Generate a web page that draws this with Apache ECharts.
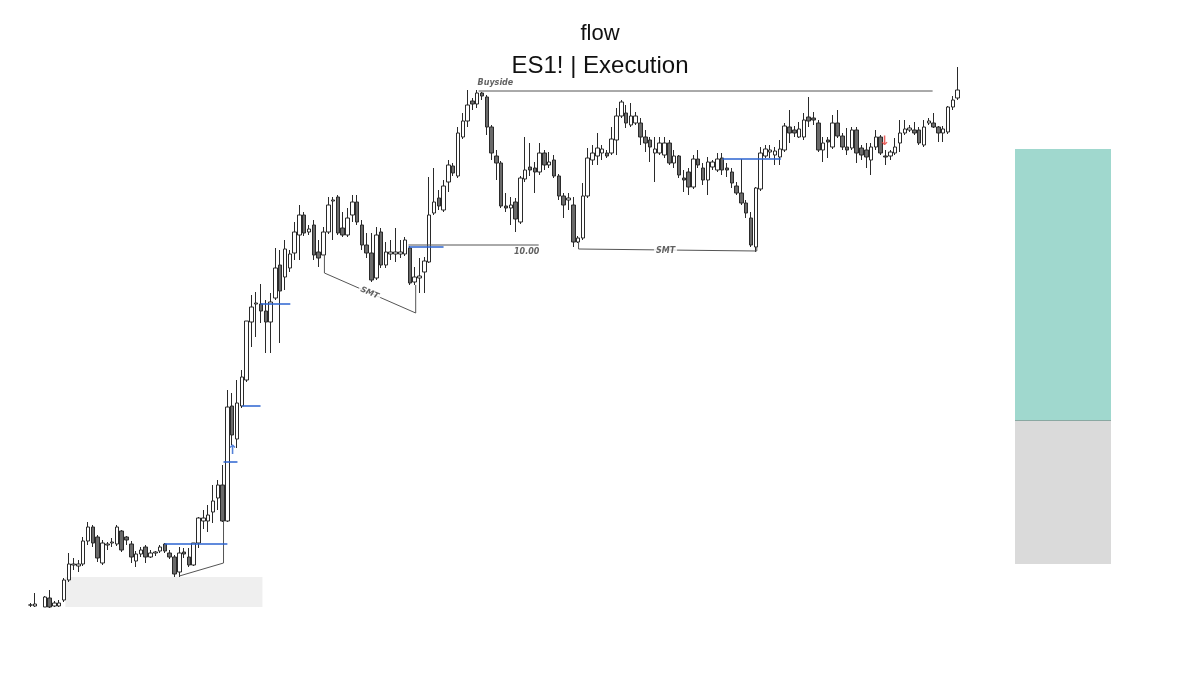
<!DOCTYPE html>
<html>
<head>
<meta charset="utf-8">
<title>flow - ES1! | Execution</title>
<script src="https://cdn.jsdelivr.net/npm/echarts@6/dist/echarts.min.js"></script>
<style>
  html, body { margin: 0; padding: 0; background: #fff; }
  #chart { width: 1200px; height: 675px; }
</style>
</head>
<body>
<div id="chart"></div>
<script>
  // candles, one entry per bar (null = no bar)
  const openPrices = [
    95, 94, null, 93, 102, 94, 94, 100, 120, 135,
    134, 136, 159, 173, 163, 137, 155, 157, 156, 169,
    163, 156, 139, 146, 153, 143, 147, 149, 156, 147,
    143, 128, 148, 143, 135, 157, 179, 179, 188, 202,
    215, 179, 294, 261, 294, 320, 378, 396, 396, 389,
    378, 402, 435, 423, 432, 447, 465, 485, 468, 475,
    448, 445, 468, 499, 503, 472, 465, 485, 498, 475,
    455, 447, 422, 468, 435, 446, 446, 446, 446, 452,
    418, 422, 428, 438, 487, 502, 490, 518, 534, 524,
    563, 579, 599, 596, 607, 603, 573, 544, 537, 494,
    492, 498, 478, 521, 533, 532, 528, 547, 535, 540,
    524, 504, 500, 495, 458, 462, 504, 540, 544, 547,
    547, 547, 560, 584, 587, 575, 577, 577, 563, 560,
    547, 547, 545, 557, 537, 544, 522, 528, 513, 541,
    532, 520, 533, 530, 542, 532, 528, 514, 507, 497,
    482, 453, 511, 544, 548, 545, 543, 550, 573, 570,
    563, 563, 583, 582, 577, 550, 560, 553, 577, 564,
    553, 552, 570, 552, 550, 540, 553, 563, 544, 544,
    547, 557, 567, 570, 570, 570, 555, 577, 577, 573,
    567, 568, 593, 602
  ];
  const closePrices = [
    95, 96, null, 103, 93, 97, 97, 120, 136, 136,
    136, 159, 173, 157, 142, 157, 156, 158, 173, 150,
    160, 143, 146, 150, 143, 147, 148, 153, 149, 143,
    126, 147, 146, 135, 157, 182, 182, 185, 199, 215,
    179, 293, 265, 297, 323, 379, 393, 397, 389, 378,
    398, 432, 409, 451, 446, 468, 485, 467, 471, 445,
    442, 468, 495, 500, 467, 465, 482, 498, 478, 455,
    447, 420, 465, 435, 448, 448, 448, 448, 460, 417,
    423, 424, 439, 485, 498, 494, 514, 535, 527, 567,
    579, 595, 596, 607, 604, 573, 547, 537, 494, 492,
    495, 481, 522, 530, 530, 528, 547, 535, 538, 524,
    504, 495, 502, 458, 462, 504, 542, 547, 552, 551,
    544, 561, 584, 598, 577, 584, 584, 563, 557, 553,
    551, 557, 557, 537, 544, 525, 520, 513, 541, 535,
    520, 538, 538, 541, 530, 530, 517, 507, 497, 487,
    455, 512, 547, 551, 550, 549, 551, 574, 567, 567,
    571, 580, 579, 580, 550, 557, 558, 577, 564, 553,
    550, 570, 547, 545, 543, 553, 563, 547, 543, 548,
    553, 567, 571, 572, 567, 557, 573, 579, 573, 567,
    571, 593, 600, 610
  ];
  const lowPrices = [
    93, 93, null, 93, 92, 93, 93, 98, 118, 130,
    128, 134, 155, 153, 138, 135, 150, 153, 154, 148,
    155, 137, 133, 143, 137, 142, 144, 147, 147, 141,
    123, 123, 142, 133, 134, 152, 171, 168, 177, 190,
    178, 178, 255, 252, 292, 318, 353, 363, 377, 347,
    347, 400, 357, 410, 428, 440, 440, 464, 465, 440,
    433, 445, 466, 460, 465, 463, 463, 478, 475, 450,
    442, 418, 420, 432, 432, 440, 438, 442, 444, 415,
    415, 407, 407, 437, 485, 490, 488, 508, 524, 522,
    561, 573, 590, 592, 600, 565, 540, 520, 492, 488,
    475, 468, 476, 518, 524, 507, 525, 530, 532, 522,
    500, 482, 490, 453, 457, 460, 502, 535, 535, 540,
    542, 545, 545, 582, 572, 573, 575, 555, 548, 538,
    518, 545, 542, 535, 532, 522, 508, 505, 511, 532,
    515, 505, 530, 528, 525, 523, 512, 505, 495, 482,
    453, 448, 509, 542, 542, 535, 535, 548, 557, 563,
    562, 560, 573, 575, 548, 538, 542, 551, 562, 550,
    545, 550, 537, 540, 532, 525, 550, 545, 535, 540,
    545, 548, 565, 568, 565, 555, 553, 575, 572, 558,
    558, 566, 590, 600
  ];
  const highPrices = [
    97, 107, null, 104, 110, 99, 100, 122, 147, 142,
    140, 163, 178, 175, 165, 160, 158, 162, 175, 170,
    164, 159, 149, 153, 155, 150, 149, 155, 157, 150,
    145, 153, 152, 152, 157, 183, 190, 195, 215, 220,
    235, 310, 307, 320, 330, 379, 405, 408, 416, 400,
    407, 452, 450, 460, 450, 478, 495, 488, 475, 480,
    460, 473, 503, 503, 505, 488, 492, 505, 505, 480,
    467, 467, 473, 472, 458, 460, 472, 460, 463, 454,
    433, 442, 443, 523, 532, 510, 520, 540, 537, 573,
    587, 610, 602, 610, 608, 605, 575, 550, 539, 507,
    503, 502, 524, 563, 557, 538, 557, 550, 548, 545,
    526, 507, 507, 503, 464, 517, 552, 555, 567, 555,
    550, 573, 592, 600, 595, 597, 588, 582, 570, 563,
    563, 563, 563, 560, 550, 545, 530, 532, 545, 550,
    537, 543, 540, 547, 547, 537, 532, 518, 541, 500,
    488, 513, 553, 555, 555, 553, 560, 577, 590, 574,
    578, 587, 603, 588, 580, 563, 563, 585, 590, 567,
    572, 573, 573, 555, 557, 557, 570, 565, 550, 550,
    562, 580, 580, 575, 578, 573, 580, 582, 587, 574,
    574, 594, 604, 633
  ];

  // drawings on the chart, in [bar index, price]
  const buysideLine = [[93.3, 609], [187.8, 609]];
  const rangeLine = [[78.7, 455], [105.8, 455]];
  const smtLeft = [[61.2, 445], [61.2, 427], [80.2, 387], [80.2, 415]];
  const smtRight = [[114.1, 458], [114.1, 451], [151.2, 449], [151.2, 453]];
  const smtLow = [[31.0, 124], [40.2, 137], [40.2, 179]];
  const blueLevels = [
    [[27.9, 156], [41.0, 156]],
    [[40.2, 238], [43.1, 238]],
    [[44.1, 294], [47.9, 294]],
    [[47.9, 396], [54.1, 396]],
    [[78.7, 453], [86.0, 453]],
    [[144.1, 541], [156.2, 541]]
  ];
  const noteTexts = ['Buyside', '10.00', 'SMT', 'SMT'];
  const notePoints = [[96.8, 617], [103.3, 448], [70.6, 407], [132.2, 449]];
  const noteAngles = [0, 0, -24, 0];
  const upArrow = [42.1, 249];
  const downArrow = [177.8, 558];
  const demandZone = [[7.3, 123], [48.3, 93]];

  // position tool on the right
  const stopLevel = 136;
  const entryLevel = 280;
  const targetLevel = 551;

  const barCount = openPrices.length;
  const categories = openPrices.map((_, i) => String(i + 1));
  const candleData = openPrices.map((o, i) =>
    o == null ? ['-', '-', '-', '-'] : [o, closePrices[i], lowPrices[i], highPrices[i]]
  );

  const fontFamily = 'Liberation Sans, Arial, sans-serif';
  const inkColor = '#3a3a3a';
  const blueColor = '#2b63d0';

  const drawLine = (points, color, width) => ({
    type: 'line',
    xAxisIndex: 1,
    yAxisIndex: 0,
    data: points,
    symbol: 'none',
    silent: true,
    z: 4,
    lineStyle: { color: color, width: width }
  });

  const series = [
    {
      type: 'line',
      xAxisIndex: 1,
      yAxisIndex: 0,
      data: demandZone,
      symbol: 'none',
      silent: true,
      z: 1,
      lineStyle: { opacity: 0 },
      markArea: {
        silent: true,
        itemStyle: { color: '#efefef' },
        data: [[{ coord: demandZone[0] }, { coord: demandZone[1] }]]
      }
    },
    {
      type: 'candlestick',
      xAxisIndex: 0,
      yAxisIndex: 0,
      data: candleData,
      barWidth: 4,
      z: 3,
      itemStyle: {
        color: '#ffffff',
        color0: '#6a6a6a',
        borderColor: '#2a2a2a',
        borderColor0: '#2a2a2a',
        borderWidth: 1
      }
    },
    drawLine(buysideLine, '#555', 1),
    drawLine(rangeLine, '#555', 1),
    drawLine(smtLeft, '#555', 1),
    drawLine(smtRight, '#555', 1),
    drawLine(smtLow, '#555', 1),
    ...blueLevels.map(pts => drawLine(pts, blueColor, 1.5)),
    {
      type: 'scatter',
      xAxisIndex: 1,
      yAxisIndex: 0,
      symbolSize: 0,
      silent: true,
      z: 6,
      data: notePoints.map((p, i) => ({
        name: noteTexts[i],
        value: p,
        label: { rotate: noteAngles[i] }
      })),
      label: {
        show: true,
        position: 'inside',
        formatter: '{b}',
        fontFamily: 'DejaVu Sans, sans-serif',
        fontStyle: 'italic',
        fontWeight: 'bold',
        fontSize: 8,
        color: inkColor,
        backgroundColor: '#ffffff',
        padding: [0, 2]
      }
    },
    {
      type: 'scatter',
      xAxisIndex: 1,
      yAxisIndex: 0,
      symbolSize: 0,
      silent: true,
      z: 6,
      data: [
        { name: '↑', value: upArrow, label: { color: blueColor } },
        { name: '↓', value: downArrow, label: { color: '#e53935' } }
      ],
      label: {
        show: true,
        position: 'inside',
        formatter: '{b}',
        fontFamily: 'DejaVu Sans, sans-serif',
        fontWeight: 'bold',
        fontSize: 13
      }
    },
    {
      type: 'bar',
      xAxisIndex: 2,
      yAxisIndex: 1,
      stack: 'position',
      barWidth: '100%',
      silent: true,
      data: [stopLevel],
      itemStyle: { color: 'rgba(0,0,0,0)' }
    },
    {
      type: 'bar',
      xAxisIndex: 2,
      yAxisIndex: 1,
      stack: 'position',
      barWidth: '100%',
      silent: true,
      data: [entryLevel - stopLevel],
      itemStyle: { color: '#dadada' }
    },
    {
      type: 'bar',
      xAxisIndex: 2,
      yAxisIndex: 1,
      stack: 'position',
      barWidth: '100%',
      silent: true,
      data: [targetLevel - entryLevel],
      itemStyle: { color: '#a0d8ce' },
      markLine: {
        silent: true,
        symbol: 'none',
        label: { show: false },
        lineStyle: { color: '#8aa8a2', width: 1, type: 'solid' },
        data: [{ yAxis: entryLevel }]
      }
    }
  ];

  const chart = echarts.init(document.getElementById('chart'));
  chart.setOption({
    animation: false,
    backgroundColor: '#ffffff',
    title: [
      {
        text: 'flow',
        left: 'center',
        top: 18,
        textStyle: { fontFamily: fontFamily, fontSize: 22, fontWeight: 'normal', color: '#111' }
      },
      {
        text: 'ES1! | Execution',
        left: 'center',
        top: 49,
        textStyle: { fontFamily: fontFamily, fontSize: 24, fontWeight: 'normal', color: '#111' }
      }
    ],
    grid: [
      { left: 28, width: 932, top: 0, height: 675 },
      { left: 1015, width: 96, top: 0, height: 675 }
    ],
    xAxis: [
      { type: 'category', gridIndex: 0, data: categories, boundaryGap: true, show: false },
      { type: 'value', gridIndex: 0, min: -0.5, max: barCount - 0.5, show: false },
      { type: 'category', gridIndex: 1, data: ['position'], boundaryGap: true, show: false }
    ],
    yAxis: [
      { type: 'value', gridIndex: 0, min: 25, max: 700, show: false },
      { type: 'value', gridIndex: 1, min: 25, max: 700, show: false }
    ],
    series: series
  });
</script>
</body>
</html>
